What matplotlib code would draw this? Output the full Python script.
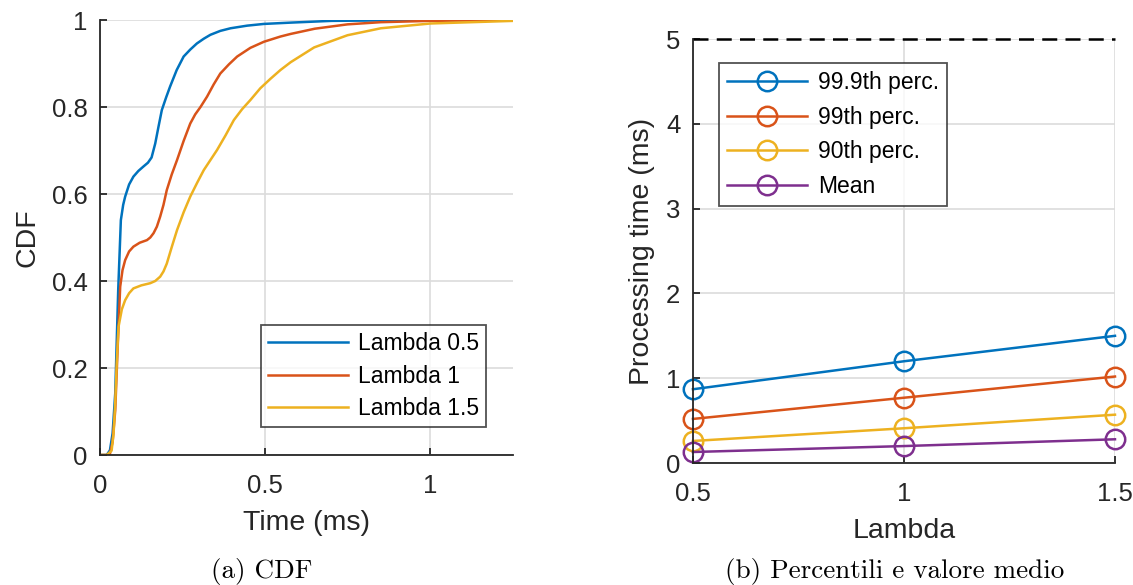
import matplotlib
matplotlib.use('agg')
import matplotlib.pyplot as plt

plt.rcParams['font.family'] = ['Liberation Sans', 'DejaVu Sans']

# CDF curves (time in ms, CDF)
t_l05 = [0, 0.02, 0.030, 0.038, 0.046, 0.055, 0.063, 0.070, 0.076, 0.088, 0.101, 0.116,
         0.131, 0.145, 0.156, 0.167, 0.177, 0.187, 0.200, 0.212, 0.232, 0.253, 0.273,
         0.293, 0.314, 0.334, 0.364, 0.395, 0.445, 0.496, 0.577, 0.70, 0.85, 1.0, 1.25]
cdf_l05 = [0, 0.0, 0.011, 0.05, 0.142, 0.38, 0.54, 0.575, 0.594, 0.622, 0.64, 0.653,
           0.663, 0.672, 0.684, 0.716, 0.755, 0.793, 0.822, 0.847, 0.885, 0.916, 0.932,
           0.946, 0.957, 0.966, 0.975, 0.981, 0.987, 0.991, 0.994, 0.998, 0.999, 1.0, 1.0]
t_l1 = [0, 0.02, 0.030, 0.038, 0.046, 0.054, 0.061, 0.068, 0.076, 0.088, 0.101, 0.120,
        0.142, 0.152, 0.162, 0.172, 0.182, 0.192, 0.202, 0.217, 0.233, 0.253, 0.273,
        0.288, 0.304, 0.324, 0.344, 0.364, 0.390, 0.415, 0.455, 0.496, 0.546, 0.577,
        0.65, 0.749, 0.85, 1.0, 1.25]
cdf_l1 = [0, 0.0, 0.003, 0.03, 0.103, 0.26, 0.387, 0.425, 0.448, 0.468, 0.479, 0.488,
          0.494, 0.50, 0.51, 0.525, 0.548, 0.575, 0.609, 0.645, 0.678, 0.722, 0.762,
          0.783, 0.80, 0.824, 0.852, 0.877, 0.898, 0.916, 0.936, 0.95, 0.962, 0.968,
          0.98, 0.99, 0.995, 0.998, 1.0]
t_l15 = [0, 0.02, 0.035, 0.041, 0.046, 0.051, 0.056, 0.066, 0.076, 0.088, 0.101, 0.125,
         0.152, 0.167, 0.182, 0.192, 0.202, 0.217, 0.233, 0.253, 0.273, 0.294, 0.314,
         0.334, 0.354, 0.380, 0.405, 0.430, 0.455, 0.485, 0.516, 0.546, 0.577, 0.648,
         0.749, 0.85, 1.0, 1.25]
cdf_l15 = [0, 0.0, 0.01, 0.05, 0.12, 0.22, 0.295, 0.335, 0.356, 0.372, 0.383, 0.39,
           0.395, 0.40, 0.41, 0.422, 0.44, 0.478, 0.517, 0.558, 0.594, 0.626, 0.655,
           0.678, 0.701, 0.735, 0.77, 0.795, 0.816, 0.843, 0.865, 0.885, 0.903, 0.937,
           0.965, 0.981, 0.992, 0.998]

# percentiles vs lambda
lambdas = [0.5, 1, 1.5]
p999 = [0.87, 1.20, 1.50]
p99 = [0.52, 0.77, 1.02]
p90 = [0.26, 0.41, 0.57]
mean = [0.13, 0.20, 0.28]

blue = '#0072BD'
orange = '#D95319'
yellow = '#EDB120'
purple = '#7E2F8E'
dark = '#262626'

fig = plt.figure(figsize=(11.33, 5.85), dpi=100)

def style(ax):
    ax.grid(True, color='#dcdcdc', linewidth=1.2)
    ax.set_axisbelow(True)
    for s in ['top', 'right']:
        ax.spines[s].set_visible(False)
    for s in ['left', 'bottom']:
        ax.spines[s].set_color(dark)
        ax.spines[s].set_linewidth(1.3)
    ax.tick_params(direction='in', length=5, width=1.3, color=dark,
                   labelcolor=dark, labelsize=18.5)
    ax.tick_params(axis='x', pad=14)
    ax.tick_params(axis='y', pad=9)

# (a) CDF
ax1 = fig.add_axes([0.0883, 0.2222, 0.3645, 0.7436])
ax1.plot(t_l05, cdf_l05, color=blue, lw=1.8, label='Lambda 0.5')
ax1.plot(t_l1, cdf_l1, color=orange, lw=1.8, label='Lambda 1')
ax1.plot(t_l15, cdf_l15, color=yellow, lw=1.8, label='Lambda 1.5')
ax1.set_xlim(0, 1.25)
ax1.set_ylim(0, 1)
ax1.set_xticks([0, 0.5, 1])
ax1.set_xticklabels(['0', '0.5', '1'])
ax1.set_yticks([0, 0.2, 0.4, 0.6, 0.8, 1])
ax1.set_yticklabels(['0', '0.2', '0.4', '0.6', '0.8', '1'])
style(ax1)
ax1.set_xlabel('Time (ms)', fontsize=20.5, color=dark, labelpad=8)
ax1.set_ylabel('CDF', fontsize=20.5, color=dark, labelpad=8)
leg1 = ax1.legend(loc='lower right', bbox_to_anchor=(0.935, 0.064), fontsize=16.5,
                  fancybox=False, edgecolor=dark, handlelength=3.5,
                  borderpad=0.3, labelspacing=0.42, handletextpad=0.45,
                  borderaxespad=0)
leg1.get_frame().set_linewidth(1.3)

# (b) percentiles and mean
ax2 = fig.add_axes([0.6116, 0.2085, 0.3725, 0.7248])
ax2.axhline(5, color='black', lw=1.8, linestyle=(0, (6, 3.3)), clip_on=False)
mk = dict(marker='o', markersize=14, markerfacecolor='none', markeredgewidth=1.8, lw=1.8)
ax2.plot(lambdas, p999, color=blue, label='99.9th perc.', **mk)
ax2.plot(lambdas, p99, color=orange, label='99th perc.', **mk)
ax2.plot(lambdas, p90, color=yellow, label='90th perc.', **mk)
ax2.plot(lambdas, mean, color=purple, label='Mean', **mk)
ax2.set_xlim(0.5, 1.5)
ax2.set_ylim(0, 5)
ax2.set_xticks([0.5, 1, 1.5])
ax2.set_xticklabels(['0.5', '1', '1.5'])
ax2.set_yticks([0, 1, 2, 3, 4, 5])
style(ax2)
for p in ax2.lines[1:]:
    p.set_clip_on(False)
ax2.set_xlabel('Lambda', fontsize=20.5, color=dark, labelpad=8)
ax2.set_ylabel('Processing time (ms)', fontsize=20.5, color=dark, labelpad=8)
leg2 = ax2.legend(loc='upper left', bbox_to_anchor=(0.062, 0.943), fontsize=16.5,
                  fancybox=False, edgecolor=dark, handlelength=3.5,
                  borderpad=0.35, labelspacing=0.5, handletextpad=0.45,
                  borderaxespad=0)
leg2.get_frame().set_linewidth(1.3)

fig.text(0.231, 0.012, '(a) CDF', family='cmr10', fontsize=19.5, ha='center',
         va='baseline', color='black')
fig.text(0.790, 0.012, '(b) Percentili e valore medio', family='cmr10', fontsize=19.5,
         ha='center', va='baseline', color='black')

fig.savefig('out.png', dpi=100)
plt.close(fig)
